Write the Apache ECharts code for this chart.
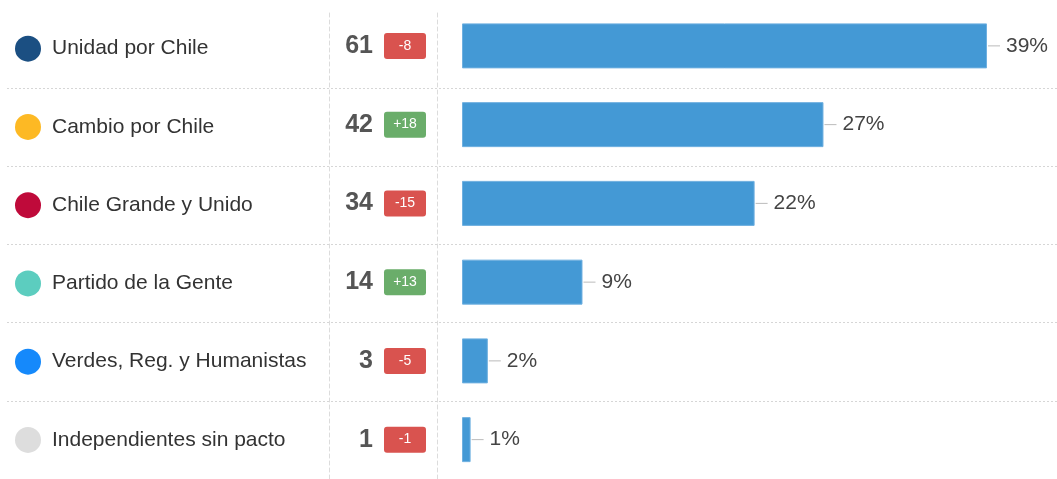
<!DOCTYPE html>
<html><head><meta charset="utf-8">
<script src="https://cdn.jsdelivr.net/npm/echarts@6/dist/echarts.min.js"></script>
<style>html,body{margin:0;padding:0;background:#fff}#c{width:1057px;height:479px}</style>
</head><body><div id="c"></div>
<script>
const parties = ['Unidad por Chile','Cambio por Chile','Chile Grande y Unido','Partido de la Gente','Verdes, Reg. y Humanistas','Independientes sin pacto'];
const partyColors = ['#1b4f82','#fdb924','#bf0a3a','#5ccdbf','#1589fb','#dddddd'];
const seats = [61,42,34,14,3,1];
const seatChange = [-8,18,-15,13,-5,-1];
const percentLabels = [39,27,22,9,2,1];

const FONT = '"Liberation Sans", Arial, sans-serif';
const nameRich = {};
partyColors.forEach((c,i)=>{ nameRich['c'+i] = {width:26,height:26,borderRadius:13,backgroundColor:c,verticalAlign:'middle'}; });
nameRich.n = {fontSize:21,color:'#333',fontFamily:FONT,padding:[0,0,0,11],verticalAlign:'middle'};

const seatRich = {
  s:{fontSize:25,fontWeight:'bold',color:'#555',fontFamily:FONT,padding:[0,11,0,0],verticalAlign:'middle'},
  neg:{width:42,height:26,align:'center',backgroundColor:'#d9534f',borderRadius:3,color:'#fff',fontSize:14,fontFamily:FONT,verticalAlign:'middle'},
  pos:{width:42,height:26,align:'center',backgroundColor:'#6aad6a',borderRadius:3,color:'#fff',fontSize:14,fontFamily:FONT,verticalAlign:'middle'}
};
const sepLine = {show:true,lineStyle:{type:[4,3],color:'#dcdcdc',width:1}};

const chart = echarts.init(document.getElementById('c'));
chart.setOption({
  animation:false,
  grid:[
    {left:7,right:0,top:9.5,height:474},
    {left:329,width:108,top:10,bottom:0},
    {left:462,width:525,top:6.5,height:474}
  ],
  xAxis:[
    {gridIndex:0,type:'value',show:false,min:0,max:1},
    {gridIndex:1,type:'value',show:false,min:0,max:1},
    {gridIndex:2,type:'value',show:false,min:0,max:'dataMax'}
  ],
  yAxis:[
    {gridIndex:0,type:'category',data:parties,inverse:true,
     axisLine:{show:false},axisTick:{show:false},
     splitLine:{show:true,showMinLine:false,showMaxLine:false,lineStyle:{type:[2,2],color:'#d6d6d6'}},
     axisLabel:{inside:true,margin:8,formatter:(v,i)=>`{c${i}|}{n|${v}}`,rich:nameRich}},
    {gridIndex:1,type:'value',position:'left',min:0,max:1,axisLine:sepLine,axisTick:{show:false},axisLabel:{show:false},splitLine:{show:false}},
    {gridIndex:1,type:'value',position:'right',min:0,max:1,axisLine:sepLine,axisTick:{show:false},axisLabel:{show:false},splitLine:{show:false}},
    {gridIndex:2,type:'category',data:parties,inverse:true,
     axisLine:{show:false},axisTick:{show:false},splitLine:{show:false},
     axisLabel:{margin:36,formatter:(v,i)=>{const d=seatChange[i];return `{s|${seats[i]}}{${d<0?'neg':'pos'}|${d>0?'+'+d:d}}`;},rich:seatRich}}
  ],
  series:[
    {type:'bar',xAxisIndex:2,yAxisIndex:3,data:seats,barWidth:45,
     itemStyle:{color:'#4499d5',borderColor:'#6fb0e0',borderWidth:1}},
    {type:'custom',xAxisIndex:2,yAxisIndex:3,
     data:seats.map((s,i)=>[s,i,percentLabels[i]]),
     encode:{x:0,y:1},
     renderItem:(params,api)=>{
       const p = api.coord([api.value(0),api.value(1)]);
       return {type:'group',children:[
         {type:'line',shape:{x1:p[0]+1,y1:p[1],x2:p[0]+13,y2:p[1]},style:{stroke:'#bbbbbb',lineWidth:1}},
         {type:'text',style:{x:p[0]+19,y:p[1],text:api.value(2)+'%',fill:'#444',fontSize:21,fontFamily:FONT,align:'left',verticalAlign:'middle'}}
       ]};
     }}
  ]
});
</script></body></html>
